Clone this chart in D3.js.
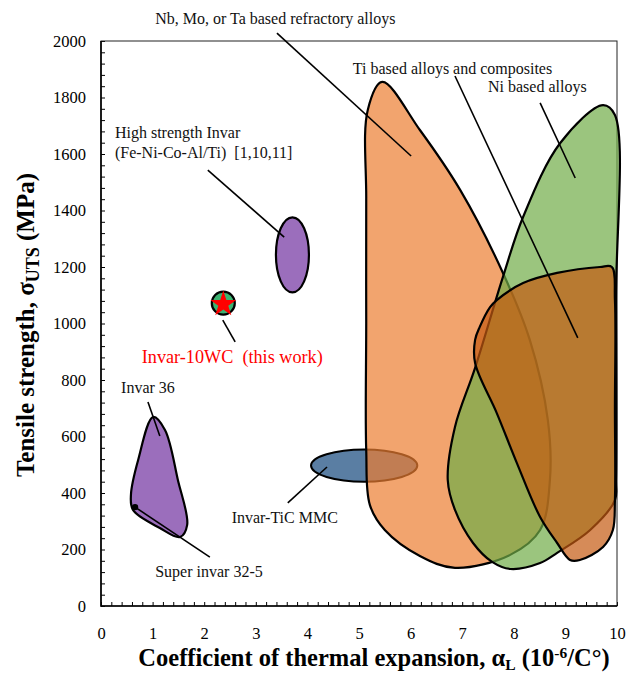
<!DOCTYPE html>
<html>
<head>
<meta charset="utf-8">
<script src="https://cdn.jsdelivr.net/npm/d3@7"></script>
<style>
  body { margin: 0; background: #fff; }
  svg text { font-family: "Liberation Serif", "Times New Roman", serif; white-space: pre; }
</style>
</head>
<body>
<svg id="chart" width="627" height="683"></svg>
<script>
// region outlines, [alpha (1e-6/C), UTS (MPa)]
var refractory = [[5.45,1855],[6.18,1685],[6.96,1473],[7.79,1179],[8.31,942],[8.66,658],[8.70,446],[8.51,269],
  [7.93,181],[6.86,135],[6.18,177],[5.50,269],[5.21,358],[5.14,552],[5.14,1000],[5.14,1437],[5.17,1756]];
var niAlloys = [[9.73,1773],[9.96,1738],[9.98,1083],[9.98,446],[9.96,375],[9.48,269],[8.84,188],[8.51,152],
  [7.93,131],[7.58,156],[7.21,223],[6.86,340],[6.72,446],[6.86,634],[7.25,843],[7.79,1165],[8.18,1377],[8.90,1639]];
var tiAlloys = [[7.67,1083],[8.18,1143],[8.84,1179],[9.67,1200],[9.90,1200],[9.96,1083],[9.96,700],[9.96,375],
  [9.92,269],[9.73,209],[9.28,163],[9.09,163],[8.84,223],[8.51,315],[8.06,506],[7.67,683],[7.25,860],
  [7.25,942],[7.34,988],[7.54,1058]];
var invar36 = [[1.01,669],[1.24,623],[1.49,446],[1.67,287],[1.53,244],[1.14,276],[0.62,340],[0.58,393],[0.72,517]];

// ellipses: centre and half sizes
var highInvar = {x: 3.71, y: 1243, rx: 0.32, ry: 133};
var invarTiC = {x: 5.10, y: 497, rx: 1.03, ry: 57};
var invar10WC = [2.37, 1072];
var superInvar = [0.66, 350];

var labels = [
  {t: "Nb, Mo, or Ta based refractory alloys", x: 1.05, y: 2060},
  {t: "Ti based alloys and composites", x: 4.88, y: 1883},
  {t: "Ni based alloys", x: 7.50, y: 1820},
  {t: "High strength Invar", x: 0.27, y: 1657},
  {t: "(Fe-Ni-Co-Al/Ti)  [1,10,11]", x: 0.27, y: 1586},
  {t: "Invar 36", x: 0.39, y: 754},
  {t: "Super invar 32-5", x: 1.05, y: 103},
  {t: "Invar-TiC MMC", x: 4.59, y: 294, end: true}
];
var leaders = [
  [[3.41,2028],[6.01,1593]],
  [[6.86,1876],[9.24,949]],
  [[8.51,1781],[9.19,1515]],
  [[2.07,1543],[3.55,1306]],
  [[2.36,1012],[2.60,935]],
  [[0.91,722],[1.14,602]],
  [[0.66,350],[2.11,173]],
  [[3.62,365],[4.38,492]]
];

var svg = d3.select("#chart");
var x = d3.scaleLinear().domain([0, 10]).range([101, 617]);
var y = d3.scaleLinear().domain([0, 2000]).range([606, 41]);

var shape = d3.line()
  .x(function (d) { return x(d[0]); })
  .y(function (d) { return y(d[1]); })
  .curve(d3.curveCatmullRomClosed.alpha(0.5));

// axes with inner ticks
var xAxis = d3.axisBottom(x)
  .tickValues(d3.range(0, 51).map(function (i) { return i / 5; }))
  .tickSizeInner(-4).tickSizeOuter(0).tickPadding(21)
  .tickFormat(function (d) { return Math.abs(d - Math.round(d)) < 1e-9 ? Math.round(d) : ""; });
var yAxis = d3.axisLeft(y)
  .tickValues(d3.range(0, 51).map(function (i) { return i * 40; }))
  .tickSizeInner(-4).tickSizeOuter(0).tickPadding(15)
  .tickFormat(function (d) { return d % 200 === 0 ? d : ""; });

var gx = svg.append("g").attr("transform", "translate(0,606)").call(xAxis);
var gy = svg.append("g").attr("transform", "translate(101,0)").call(yAxis);
[gx, gy].forEach(function (g) {
  g.select(".domain").remove();
  g.selectAll("line").attr("stroke", "#000").attr("stroke-width", 1);
  g.selectAll("text").attr("font-size", 16.5).attr("fill", "#000")
    .style("font-family", "'Liberation Serif', serif");
});

// frame
svg.append("rect").attr("x", 101).attr("y", 41).attr("width", 516).attr("height", 565)
  .attr("fill", "none").attr("stroke", "#222").attr("stroke-width", 1);
svg.append("path").attr("d", "M101,41V606H617").attr("fill", "none").attr("stroke", "#000").attr("stroke-width", 1.6);

// regions, bottom layer first
svg.append("ellipse")
  .attr("cx", x(invarTiC.x)).attr("cy", y(invarTiC.y))
  .attr("rx", x(invarTiC.x + invarTiC.rx) - x(invarTiC.x))
  .attr("ry", y(invarTiC.y - invarTiC.ry) - y(invarTiC.y))
  .attr("fill", "#5a7ea3").attr("stroke", "#000").attr("stroke-width", 2);

var regions = [
  {pts: refractory, fill: "rgba(237,125,49,0.7)"},
  {pts: niAlloys, fill: "rgba(112,173,71,0.7)"},
  {pts: tiAlloys, fill: "rgba(197,90,17,0.7)"},
  {pts: invar36, fill: "rgba(112,48,160,0.7)"}
];
svg.selectAll("path.region").data(regions).enter().append("path")
  .attr("class", "region")
  .attr("d", function (d) { return shape(d.pts); })
  .attr("fill", function (d) { return d.fill; })
  .attr("stroke", "#000").attr("stroke-width", 2.2).attr("stroke-linejoin", "round");

svg.append("ellipse")
  .attr("cx", x(highInvar.x)).attr("cy", y(highInvar.y))
  .attr("rx", x(highInvar.x + highInvar.rx) - x(highInvar.x))
  .attr("ry", y(highInvar.y - highInvar.ry) - y(highInvar.y))
  .attr("fill", "rgba(112,48,160,0.7)").attr("stroke", "#000").attr("stroke-width", 2.2);

// this work
svg.append("circle").attr("cx", x(invar10WC[0])).attr("cy", y(invar10WC[1])).attr("r", 11.5)
  .attr("fill", "#3cb371").attr("stroke", "#000").attr("stroke-width", 2.2);
svg.append("path")
  .attr("d", d3.symbol().type(d3.symbolStar).size(210)())
  .attr("transform", "translate(" + x(invar10WC[0]) + "," + (y(invar10WC[1]) + 1) + ")")
  .attr("fill", "#ff0000");

// leaders
svg.selectAll("line.leader").data(leaders).enter().append("line")
  .attr("class", "leader")
  .attr("x1", function (d) { return x(d[0][0]); }).attr("y1", function (d) { return y(d[0][1]); })
  .attr("x2", function (d) { return x(d[1][0]); }).attr("y2", function (d) { return y(d[1][1]); })
  .attr("stroke", "#000").attr("stroke-width", 1.6);
svg.append("circle").attr("cx", x(superInvar[0])).attr("cy", y(superInvar[1])).attr("r", 3.2).attr("fill", "#000");

// labels
svg.selectAll("text.lbl").data(labels).enter().append("text")
  .attr("class", "lbl")
  .attr("x", function (d) { return x(d.x); }).attr("y", function (d) { return y(d.y); })
  .attr("text-anchor", function (d) { return d.end ? "end" : "start"; })
  .attr("font-size", 16).attr("fill", "#111")
  .text(function (d) { return d.t; });
svg.append("text").attr("x", x(0.79)).attr("y", y(860))
  .attr("font-size", 18.2).attr("fill", "#ff0000")
  .text("Invar-10WC  (this work)");

// axis titles
var yt = svg.append("text")
  .attr("transform", "translate(34,325) rotate(-90)")
  .attr("text-anchor", "middle").attr("font-size", 25).attr("font-weight", "bold");
yt.append("tspan").text("Tensile strength, σ");
yt.append("tspan").attr("font-size", 18).attr("dy", 5).text("UTS");
yt.append("tspan").attr("dy", -5).text(" (MPa)");

var xt = svg.append("text")
  .attr("x", 374).attr("y", 666)
  .attr("text-anchor", "middle").attr("font-size", 24.5).attr("font-weight", "bold");
xt.append("tspan").text("Coefficient of thermal expansion, α");
xt.append("tspan").attr("font-size", 15.5).attr("dy", 4).text("L");
xt.append("tspan").attr("dy", -4).text(" (10");
xt.append("tspan").attr("font-size", 15.5).attr("dy", -8).text("-6");
xt.append("tspan").attr("dy", 8).text("/C°)");
</script>
</body>
</html>
